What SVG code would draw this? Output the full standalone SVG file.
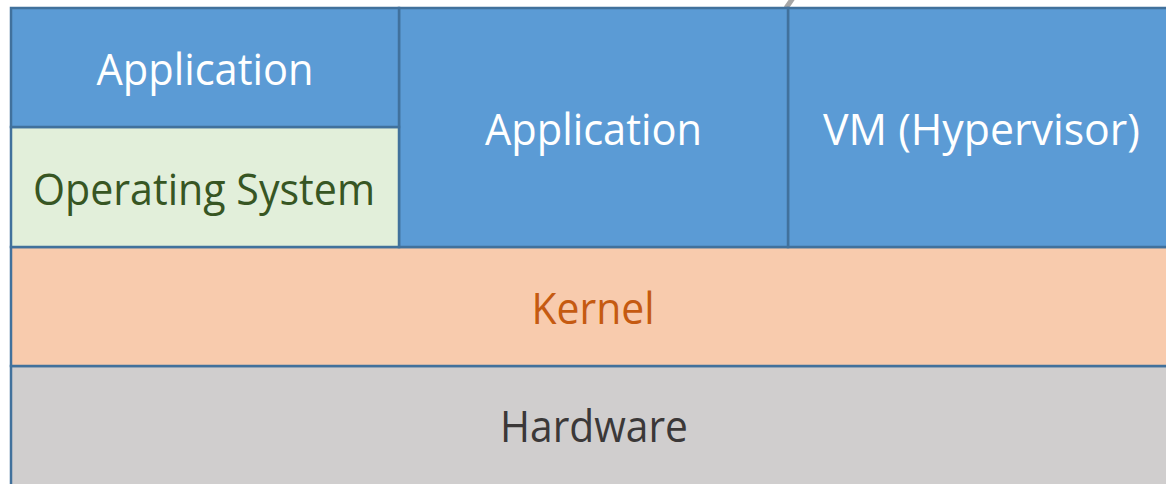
<svg xmlns="http://www.w3.org/2000/svg" width="1166" height="484" viewBox="0 0 1166 484">
  <style>
    .box { stroke: #41719C; stroke-width: 2.5; }
    .blue { fill: #5B9BD5; }
    .green { fill: #E2EFDA; }
    .orange { fill: #F8CBAD; }
    .gray { fill: #D0CECE; }
    .lbl { font-family: "Open Sans", "Liberation Sans", sans-serif; font-size: 44px; text-anchor: middle; }
  </style>
  <rect width="1166" height="484" fill="#FFFFFF"/>

  <!-- fragment of a pointer entering from above -->
  <g id="connectors">
    <line x1="786" y1="8" x2="793" y2="-2" stroke="#A6A6A6" stroke-width="5"/>
  </g>

  <g id="hardware">
    <rect class="box gray" x="11" y="366" width="1170" height="130"/>
    <text class="lbl" x="594" y="442" fill="#3B3838" textLength="188" lengthAdjust="spacingAndGlyphs">Hardware</text>
  </g>

  <g id="kernel">
    <rect class="box orange" x="11" y="247" width="1170" height="119"/>
    <text class="lbl" x="593" y="324" fill="#C55A11" textLength="123" lengthAdjust="spacingAndGlyphs">Kernel</text>
  </g>

  <g id="vm">
    <rect class="box blue" x="788" y="8" width="393" height="239"/>
    <text class="lbl" x="981.5" y="145" fill="#FFFFFF" textLength="317" lengthAdjust="spacingAndGlyphs">VM (Hypervisor)</text>
  </g>

  <g id="application-native">
    <rect class="box blue" x="399" y="8" width="389" height="239"/>
    <text class="lbl" x="593.5" y="145" fill="#FFFFFF" textLength="217" lengthAdjust="spacingAndGlyphs">Application</text>
  </g>

  <g id="operating-system">
    <rect class="box green" x="11" y="127" width="388" height="120"/>
    <text class="lbl" x="204" y="205" fill="#375623" textLength="342" lengthAdjust="spacingAndGlyphs">Operating System</text>
  </g>

  <g id="application-guest">
    <rect class="box blue" x="11" y="8" width="388" height="119"/>
    <text class="lbl" x="205" y="85" fill="#FFFFFF" textLength="217" lengthAdjust="spacingAndGlyphs">Application</text>
  </g>
</svg>
